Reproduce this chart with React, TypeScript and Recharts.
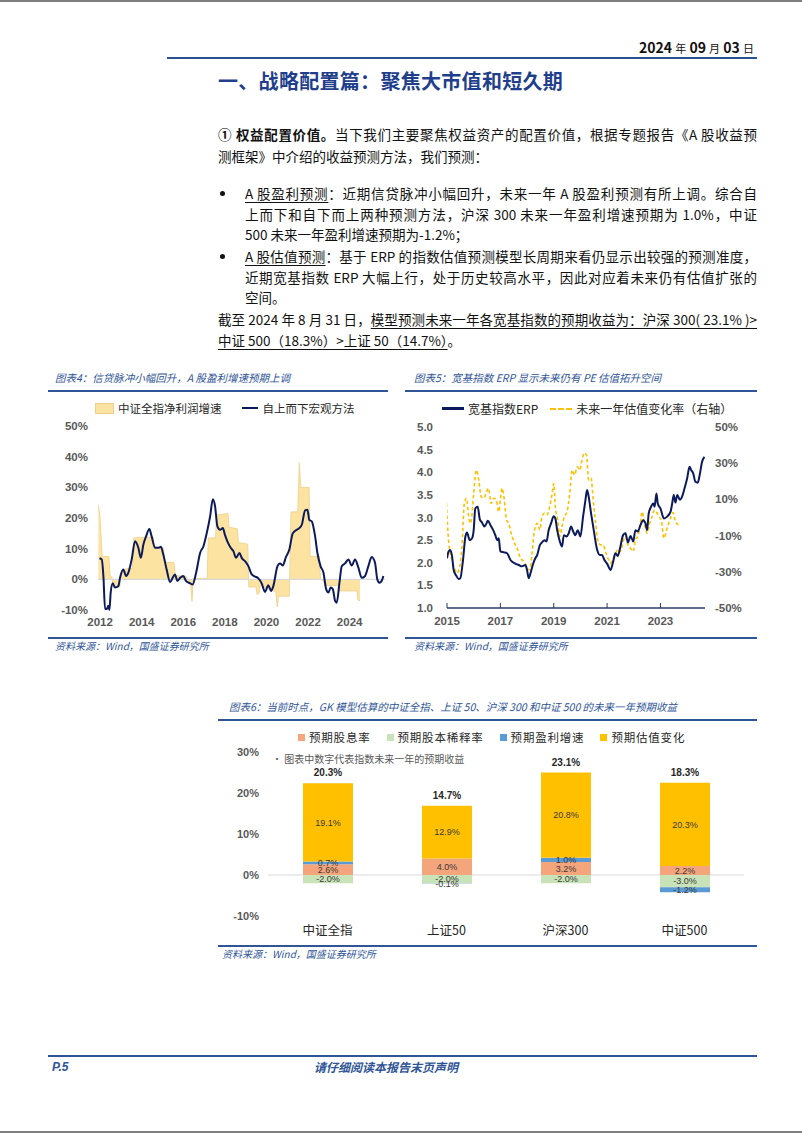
import React from "react";
import {
  ComposedChart,
  BarChart,
  Area,
  Line,
  Bar,
  XAxis,
  YAxis,
  ReferenceLine,
  CartesianGrid,
  LabelList,
} from "recharts";

// ---------- 图表4 ----------
const profitT = [2011.92, 2012.0, 2012.1, 2012.42, 2012.48, 2012.58, 2012.62, 2012.95, 2013.0, 2013.3, 2013.55, 2013.62, 2014.55, 2014.6, 2015.05, 2015.1, 2015.55, 2015.62, 2016.15, 2016.2, 2016.35, 2016.42, 2016.48, 2017.15, 2017.2, 2017.55, 2017.6, 2018.15, 2018.2, 2018.6, 2018.65, 2019.1, 2019.15, 2019.5, 2019.55, 2019.65, 2019.7, 2020.2, 2020.45, 2020.52, 2020.58, 2021.1, 2021.18, 2021.5, 2021.58, 2021.65, 2022.05, 2022.1, 2022.55, 2022.6, 2022.75, 2022.8, 2023.45, 2023.5, 2024.35, 2024.4, 2024.5];
const profitV = [24.3, 20, 7.5, 7.5, 1.5, 0.5, -2.5, -2.5, 2.5, 3.5, 3.5, 13.5, 13.8, 10.5, 10.3, 5.5, 5.5, 1.2, 1, -1, -1.5, -7.2, 0.3, 0.3, 13.5, 13.5, 21, 21.5, 17, 16.5, 12, 11.5, -2.5, -2.5, -5, -4.5, -2, -3.5, -4, -9, -5.5, -5.5, 22, 22, 38, 30, 30, 7.5, 7.5, 0, -0.5, -2, -2, -3.8, -3.8, -6.8, -7];

const macroT = [2011.97, 2012.08, 2012.16, 2012.24, 2012.32, 2012.4, 2012.45, 2012.51, 2012.61, 2012.72, 2012.88, 2012.96, 2013.12, 2013.25, 2013.36, 2013.52, 2013.68, 2013.84, 2013.96, 2014.08, 2014.21, 2014.37, 2014.48, 2014.64, 2014.8, 2014.92, 2015.04, 2015.2, 2015.37, 2015.49, 2015.6, 2015.72, 2015.85, 2016.0, 2016.13, 2016.33, 2016.45, 2016.62, 2016.81, 2016.97, 2017.13, 2017.29, 2017.42, 2017.53, 2017.64, 2017.77, 2017.9, 2018.0, 2018.12, 2018.28, 2018.41, 2018.54, 2018.7, 2018.81, 2018.97, 2019.13, 2019.29, 2019.45, 2019.6, 2019.77, 2019.93, 2020.09, 2020.22, 2020.33, 2020.53, 2020.65, 2020.78, 2020.94, 2021.1, 2021.26, 2021.42, 2021.58, 2021.7, 2021.86, 2021.97, 2022.06, 2022.18, 2022.34, 2022.45, 2022.6, 2022.74, 2022.87, 2022.98, 2023.09, 2023.19, 2023.3, 2023.38, 2023.51, 2023.62, 2023.78, 2023.94, 2024.1, 2024.26, 2024.42, 2024.58, 2024.74, 2024.9, 2025.06, 2025.22, 2025.33, 2025.43, 2025.54, 2025.62];
const macroV = [6.9, 6.5, 1, -9.7, -9.7, -8.6, -10, -4.3, -1.3, -2.7, -2.2, 0.5, 3.2, 1.1, 2.2, 6.5, 12.4, 10.3, 7.0, 11.3, 14, 16.4, 14, 10.3, 10.3, 10.6, 8.1, 3.2, -0.9, 0.5, 1.6, -0.5, 0.5, 1.1, -0.5, -1.3, -1.7, 2.2, 8.6, 10.8, 15.1, 20.5, 26.1, 23.8, 17.3, 16.2, 16.7, 14.6, 12.4, 10.3, 9.2, 7.0, 8.6, 7.0, 5.9, 4.3, 1.6, 0.9, 0.4, -1.3, -4.1, -1.9, -3.8, -2.2, 4.3, 5.2, 4.5, 7.3, 9.7, 14.9, 16, 16.7, 17.8, 22.5, 22.7, 19.4, 18.9, 14, 8.6, 4.3, 2.2, -3.2, -4.3, -2.7, -3.2, -7, -7.6, -1.1, 4.3, 5.2, 6.5, 4.5, 6.5, 3.8, 0.5, 1.1, 4.3, 7.3, 5.4, 0, -1.1, -0.5, 1.1];

const fig4XTicks = [2012, 2014, 2016, 2018, 2020, 2022, 2024];
const fig4YTicks = [-10, 0, 10, 20, 30, 40, 50];

// ---------- 图表5 ----------
const erpT = [2015.0, 2015.06, 2015.12, 2015.19, 2015.25, 2015.35, 2015.44, 2015.5, 2015.6, 2015.69, 2015.75, 2015.85, 2015.94, 2016.0, 2016.06, 2016.15, 2016.23, 2016.31, 2016.4, 2016.48, 2016.53, 2016.63, 2016.73, 2016.81, 2016.88, 2016.94, 2017.0, 2017.13, 2017.25, 2017.38, 2017.56, 2017.69, 2017.81, 2017.94, 2018.0, 2018.06, 2018.13, 2018.23, 2018.31, 2018.38, 2018.48, 2018.56, 2018.65, 2018.73, 2018.81, 2018.9, 2019.0, 2019.06, 2019.13, 2019.23, 2019.31, 2019.38, 2019.48, 2019.56, 2019.65, 2019.73, 2019.81, 2019.9, 2020.0, 2020.1, 2020.19, 2020.25, 2020.31, 2020.4, 2020.5, 2020.63, 2020.73, 2020.81, 2020.9, 2021.0, 2021.13, 2021.23, 2021.31, 2021.4, 2021.5, 2021.6, 2021.69, 2021.78, 2021.88, 2021.98, 2022.06, 2022.15, 2022.25, 2022.35, 2022.44, 2022.5, 2022.56, 2022.65, 2022.73, 2022.78, 2022.85, 2022.9, 2023.0, 2023.13, 2023.25, 2023.38, 2023.44, 2023.5, 2023.56, 2023.63, 2023.73, 2023.81, 2023.9, 2024.0, 2024.09, 2024.15, 2024.23, 2024.31, 2024.4, 2024.48, 2024.56, 2024.65];
const erpV = [2.10, 2.25, 2.28, 2.14, 1.84, 1.71, 1.64, 1.66, 2.06, 2.58, 2.67, 2.5, 2.54, 2.72, 3.2, 3.24, 2.96, 2.89, 2.8, 2.87, 2.93, 2.83, 2.72, 2.61, 2.5, 2.54, 2.25, 2.23, 2.21, 2.06, 1.98, 1.95, 1.92, 1.95, 1.84, 1.66, 1.77, 1.98, 2.1, 2.17, 2.39, 2.45, 2.5, 2.47, 2.72, 2.87, 3.03, 2.98, 2.72, 2.47, 2.36, 2.61, 2.58, 2.65, 2.8, 2.69, 2.61, 2.72, 2.58, 3.02, 3.39, 3.61, 3.46, 3.09, 2.72, 2.28, 2.17, 2.17, 2.06, 1.98, 1.84, 2.03, 2.21, 2.15, 2.36, 2.61, 2.65, 2.45, 2.59, 2.47, 2.72, 2.69, 2.83, 2.94, 2.87, 2.72, 3.09, 3.24, 3.31, 3.24, 3.53, 3.31, 3.2, 2.98, 3.02, 3.13, 3.31, 3.5, 3.33, 3.5, 3.39, 3.46, 3.64, 3.86, 4.12, 4.05, 3.97, 3.79, 3.77, 3.97, 4.23, 4.34];

const peT = [2014.98, 2015.03, 2015.1, 2015.19, 2015.28, 2015.38, 2015.48, 2015.56, 2015.65, 2015.73, 2015.81, 2015.88, 2015.94, 2016.0, 2016.1, 2016.19, 2016.28, 2016.38, 2016.48, 2016.56, 2016.65, 2016.75, 2016.85, 2016.94, 2017.0, 2017.06, 2017.15, 2017.23, 2017.31, 2017.44, 2017.53, 2017.63, 2017.73, 2017.81, 2017.9, 2018.0, 2018.1, 2018.19, 2018.28, 2018.38, 2018.48, 2018.56, 2018.65, 2018.75, 2018.85, 2018.94, 2019.0, 2019.06, 2019.15, 2019.23, 2019.31, 2019.4, 2019.5, 2019.6, 2019.69, 2019.78, 2019.88, 2019.98, 2020.06, 2020.15, 2020.23, 2020.31, 2020.4, 2020.48, 2020.56, 2020.65, 2020.75, 2020.85, 2020.94, 2021.03, 2021.13, 2021.23, 2021.31, 2021.4, 2021.5, 2021.6, 2021.69, 2021.78, 2021.88, 2021.98, 2022.06, 2022.15, 2022.25, 2022.31, 2022.4, 2022.5, 2022.6, 2022.69, 2022.78, 2022.85, 2022.94, 2023.03, 2023.13, 2023.23, 2023.31, 2023.4, 2023.48, 2023.53, 2023.6, 2023.69];
const peV = [7.8, -6.9, -17.9, -23.4, -28, -30.7, -27, -16, 7.8, 10.6, 0.5, -3.2, 2.3, 13.3, 26.2, 20.6, 11.5, 10.6, 14.2, 16.1, 7.8, 10.6, 9.6, 3.2, 9.6, 16.1, 9.6, -1.4, -3.2, -10.5, -14.2, -17, -21.6, -23.4, -24.3, -28, -28.9, -19.7, -6.9, -3.2, -6.9, 0.5, 2.3, 1.4, 6, 13.3, 18.8, 6, -1.4, -10.5, -5, 0.5, 3.2, 13.3, 26.2, 23.4, 28, 26.2, 31.7, 35.7, 34.4, 20.6, 21.6, 9.6, -1.4, -12.4, -15.1, -15.1, -18.8, -22.5, -25.2, -22.5, -20.6, -17.5, -18.8, -13.3, -10.5, -15.1, -17, -18.8, -12.4, -10.5, -3.2, 3.2, -3.2, -8.7, -3.2, 0.5, 4.1, 3.2, 0.5, -1.4, -11.5, -6.9, -3.2, 0.5, 2.7, -0.5, -3.2, -4.1];

const fig5XTicks = [2015, 2017, 2019, 2021, 2023];
const fig5LeftTicks = [1.0, 1.5, 2.0, 2.5, 3.0, 3.5, 4.0, 4.5, 5.0];
const fig5RightTicks = [-50, -30, -10, 10, 30, 50];

// ---------- 图表6 ----------
const indexNames = ["中证全指", "上证50", "沪深300", "中证500"];
const dividendYield = [2.6, 4.0, 3.2, 2.2];
const dilution = [-2.0, -2.0, -2.0, -3.0];
const earningsGrowth = [0.7, -0.1, 1.0, -1.2];
const valuationChange = [19.1, 12.9, 20.8, 20.3];
const expectedReturn = [20.3, 14.7, 23.1, 18.3];
const fig6YTicks = [-10, 0, 10, 20, 30];

const zip = (t: number[], v: number[]) => t.map((x, i) => ({ t: x, v: v[i] }));
const profitData = zip(profitT, profitV);
const macroData = zip(macroT, macroV);
const erpData = zip(erpT, erpV);
const peData = zip(peT, peV);
const fig6Data = indexNames.map((name, i) => ({
  name,
  dividend: dividendYield[i],
  dilution: dilution[i],
  growth: earningsGrowth[i],
  valuation: valuationChange[i],
  total: expectedReturn[i],
}));

const BLUE = "#2f5597";
const NAVY = "#0c1a5c";
const GOLD = "#ffc000";
const CJK = '"Noto Sans CJK SC", "Noto Sans", sans-serif';
const NARROW = '"Liberation Sans Narrow", "Noto Sans CJK SC", sans-serif';
const AXIS_TICK = { fontSize: 11.5, fontWeight: 700, fill: "#595959", fontFamily: '"Liberation Sans", Arial, sans-serif' };

const pct = (v: unknown) => `${Number(v).toFixed(1)}%`;

// 绝对定位的文字，y 为行中心
function T({
  x,
  y,
  size,
  children,
  style,
}: {
  x: number;
  y: number;
  size: number;
  children: React.ReactNode;
  style?: React.CSSProperties;
}) {
  return (
    <div
      style={{
        position: "absolute",
        left: x,
        top: y - size * 0.7,
        lineHeight: `${size * 1.4}px`,
        fontSize: size,
        whiteSpace: "nowrap",
        ...style,
      }}
    >
      {children}
    </div>
  );
}

// 两端对齐的一行正文
function JLine({ x, y, w, last, children }: { x: number; y: number; w: number; last?: boolean; children: React.ReactNode }) {
  return (
    <div
      style={{
        position: "absolute",
        left: x,
        top: y - 10,
        width: w,
        lineHeight: "20px",
        fontSize: 13.5,
        fontFamily: NARROW,
        color: "#111",
        textAlign: "justify",
        textAlignLast: last ? "left" : "justify",
      }}
    >
      {children}
    </div>
  );
}

const Rule = ({ x, y, w, h = 1.5, color = BLUE }: { x: number; y: number; w: number; h?: number; color?: string }) => (
  <div style={{ position: "absolute", left: x, top: y, width: w, height: h, background: color }} />
);

const Bullet = ({ y }: { y: number }) => (
  <div style={{ position: "absolute", left: 220, top: y - 2.5, width: 5, height: 5, borderRadius: 3, background: "#111" }} />
);

const u: React.CSSProperties = { textDecoration: "underline", textUnderlineOffset: 3 };
const capStyle: React.CSSProperties = { fontFamily: CJK, fontStyle: "italic", color: BLUE };

function Fig4() {
  return (
    <ComposedChart width={355} height={215} margin={{ top: 6, right: 10, left: 8, bottom: 0 }}>
      <XAxis
        dataKey="t"
        type="number"
        domain={[2011.9, 2025.7]}
        ticks={fig4XTicks}
        allowDataOverflow
        axisLine={false}
        tickLine={false}
        height={25}
        tick={AXIS_TICK}
      />
      <YAxis
        domain={[-10, 50]}
        ticks={fig4YTicks}
        tickFormatter={(v: number) => `${v}%`}
        axisLine={false}
        tickLine={false}
        width={50}
        tickMargin={4}
        tick={AXIS_TICK}
      />
      <ReferenceLine y={0} stroke="#d9d9d9" strokeWidth={1.2} />
      <Area
        data={profitData}
        dataKey="v"
        type="linear"
        fill="#fde3a1"
        fillOpacity={1}
        stroke="#ead08c"
        strokeWidth={0.8}
        isAnimationActive={false}
      />
      <Line
        data={macroData}
        dataKey="v"
        type="monotone"
        stroke={NAVY}
        strokeWidth={2}
        dot={false}
        isAnimationActive={false}
      />
    </ComposedChart>
  );
}

function Fig5() {
  return (
    <ComposedChart width={360} height={212} margin={{ top: 7, right: 5, left: 7, bottom: 0 }}>
      <XAxis
        dataKey="t"
        type="number"
        domain={[2015, 2024.67]}
        ticks={fig5XTicks}
        allowDataOverflow
        axisLine={{ stroke: "#2b3a67", strokeWidth: 1.5 }}
        tickLine={{ stroke: "#2b3a67" }}
        tickSize={-5}
        tickMargin={14}
        height={24}
        tick={AXIS_TICK}
      />
      <YAxis
        yAxisId="l"
        domain={[1, 5]}
        ticks={fig5LeftTicks}
        tickFormatter={(v: number) => v.toFixed(1)}
        axisLine={false}
        tickLine={false}
        width={40}
        tickMargin={8}
        tick={AXIS_TICK}
      />
      <YAxis
        yAxisId="r"
        orientation="right"
        domain={[-50, 50]}
        ticks={fig5RightTicks}
        tickFormatter={(v: number) => `${v}%`}
        axisLine={false}
        tickLine={false}
        width={50}
        tickMargin={4}
        tick={{ ...AXIS_TICK, textAnchor: "start" }}
      />
      <Line
        yAxisId="r"
        data={peData}
        dataKey="v"
        type="monotone"
        stroke={GOLD}
        strokeWidth={1.6}
        strokeDasharray="3.5 2.5"
        dot={false}
        isAnimationActive={false}
      />
      <Line
        yAxisId="l"
        data={erpData}
        dataKey="v"
        type="monotone"
        stroke={NAVY}
        strokeWidth={2}
        dot={false}
        isAnimationActive={false}
      />
    </ComposedChart>
  );
}

const fig6Series = [
  { key: "dividend", color: "#f4a57b", label: "预期股息率" },
  { key: "dilution", color: "#c9e3b8", label: "预期股本稀释率" },
  { key: "growth", color: "#5b9bd5", label: "预期盈利增速" },
  { key: "valuation", color: GOLD, label: "预期估值变化" },
];

function Fig6() {
  return (
    <BarChart
      width={550}
      height={200}
      data={fig6Data}
      stackOffset="sign"
      margin={{ top: 7, right: 16, left: 8, bottom: 0 }}
    >
      <CartesianGrid vertical={false} horizontalValues={[0]} stroke="#d9d9d9" />
      <XAxis
        dataKey="name"
        axisLine={false}
        tickLine={false}
        height={29}
        tickMargin={4}
        tick={{ fontSize: 12.5, fill: "#262626", fontFamily: CJK }}
      />
      <YAxis
        domain={[-10, 30]}
        ticks={fig6YTicks}
        tickFormatter={(v: number) => `${v}%`}
        axisLine={false}
        tickLine={false}
        width={50}
        tickMargin={3}
        tick={{ ...AXIS_TICK, fontSize: 11 }}
      />
      {fig6Series.map((s) => (
        <Bar key={s.key} dataKey={s.key} stackId="a" fill={s.color} barSize={50} isAnimationActive={false}>
          <LabelList
            dataKey={s.key}
            position="center"
            formatter={pct}
            style={{ fontSize: 9, fill: "#3a3a3a", fontFamily: '"Liberation Sans", sans-serif' }}
          />
          {s.key === "valuation" && (
            <LabelList
              dataKey="total"
              position="top"
              offset={7}
              formatter={pct}
              style={{ fontSize: 10, fontWeight: 700, fill: "#262626", fontFamily: '"Liberation Sans", sans-serif' }}
            />
          )}
        </Bar>
      ))}
    </BarChart>
  );
}

export default function App() {
  return (
    <div
      style={{
        position: "absolute",
        left: 0,
        top: 0,
        width: 802,
        height: 1133,
        background: "#fff",
        overflow: "hidden",
        fontFamily: CJK,
      }}
    >
      <Rule x={0} y={0} w={802} h={1.5} color="#7f7f7f" />
      <Rule x={0} y={1131} w={802} h={2} color="#7f7f7f" />

      {/* 页眉 */}
      <T x={639} y={48} size={14} style={{ fontFamily: NARROW, color: "#111", fontWeight: 600 }}>
        2024 <span style={{ fontSize: 11, fontWeight: 400 }}>年</span> 09 <span style={{ fontSize: 11, fontWeight: 400 }}>月</span> 03{" "}
        <span style={{ fontSize: 11, fontWeight: 400 }}>日</span>
      </T>
      <Rule x={167} y={57} w={590} h={2} color="#2a4f92" />
      <T x={218} y={81} size={20} style={{ fontWeight: 700, color: "#1f3f8c", letterSpacing: 0.3 }}>
        一、战略配置篇：聚焦大市值和短久期
      </T>

      {/* 正文 */}
      <JLine x={218} y={134} w={539}>
        <b>① 权益配置价值。</b>当下我们主要聚焦权益资产的配置价值，根据专题报告《A 股收益预
      </JLine>
      <JLine x={218} y={156} w={539} last>
        测框架》中介绍的收益预测方法，我们预测：
      </JLine>

      <Bullet y={193} />
      <JLine x={245} y={193} w={512}>
        <span style={u}>A 股盈利预测</span>：近期信贷脉冲小幅回升，未来一年 A 股盈利预测有所上调。综合自
      </JLine>
      <JLine x={245} y={214} w={512}>
        上而下和自下而上两种预测方法，沪深 300 未来一年盈利增速预期为 1.0%，中证
      </JLine>
      <JLine x={245} y={234} w={512} last>
        500 未来一年盈利增速预期为-1.2%；
      </JLine>

      <Bullet y={256} />
      <JLine x={245} y={256} w={512}>
        <span style={u}>A 股估值预测</span>：基于 ERP 的指数估值预测模型长周期来看仍显示出较强的预测准度，
      </JLine>
      <JLine x={245} y={277} w={512}>
        近期宽基指数 ERP 大幅上行，处于历史较高水平，因此对应着未来仍有估值扩张的
      </JLine>
      <JLine x={245} y={297} w={512} last>
        空间。
      </JLine>

      <JLine x={218} y={319} w={539}>
        截至 2024 年 8 月 31 日，<span style={u}>模型预测未来一年各宽基指数的预期收益为：沪深 300( 23.1% )&gt;</span>
      </JLine>
      <JLine x={218} y={340} w={539} last>
        <span style={u}>中证 500（18.3%）&gt;上证 50（14.7%）</span>。
      </JLine>

      {/* 图表4 */}
      <T x={55} y={378} size={10.5} style={capStyle}>
        图表4：信贷脉冲小幅回升，A 股盈利增速预期上调
      </T>
      <Rule x={48} y={390} w={340} />
      <div style={{ position: "absolute", left: 95, top: 400, display: "flex", alignItems: "center", fontSize: 11.5, color: "#262626" }}>
        <span style={{ width: 17, height: 9, background: "#fde3a1", border: "1px solid #ead08c", marginRight: 4 }} />
        <span>中证全指净利润增速</span>
        <span style={{ width: 16, height: 2.5, background: NAVY, marginLeft: 20, marginRight: 5 }} />
        <span>自上而下宏观方法</span>
      </div>
      <div style={{ position: "absolute", left: 40, top: 420 }}>
        <Fig4 />
      </div>
      <Rule x={48} y={637} w={340} />
      <T x={55} y={646} size={10} style={capStyle}>
        资料来源：Wind，国盛证券研究所
      </T>

      {/* 图表5 */}
      <T x={414} y={378} size={10.5} style={capStyle}>
        图表5：宽基指数 ERP 显示未来仍有 PE 估值拓升空间
      </T>
      <Rule x={405} y={390} w={352} />
      <div style={{ position: "absolute", left: 442, top: 400, display: "flex", alignItems: "center", fontSize: 12, color: "#262626" }}>
        <span style={{ width: 22, height: 2.5, background: NAVY, marginRight: 4 }} />
        <span>宽基指数ERP</span>
        <span style={{ width: 22, height: 0, borderTop: `2px dashed ${GOLD}`, marginLeft: 12, marginRight: 4 }} />
        <span>未来一年估值变化率（右轴）</span>
      </div>
      <div style={{ position: "absolute", left: 400, top: 420 }}>
        <Fig5 />
      </div>
      <Rule x={405} y={637} w={352} />
      <T x={414} y={646} size={10} style={capStyle}>
        资料来源：Wind，国盛证券研究所
      </T>

      {/* 图表6 */}
      <T x={229} y={707} size={10.5} style={capStyle}>
        图表6：当前时点，GK 模型估算的中证全指、上证 50、沪深 300 和中证 500 的未来一年预期收益
      </T>
      <Rule x={218} y={719} w={539} />
      <div style={{ position: "absolute", left: 298, top: 729, display: "flex", alignItems: "center", fontSize: 11.5, color: "#262626" }}>
        {fig6Series.map((s, i) => (
          <span key={s.key} style={{ display: "flex", alignItems: "center", marginLeft: i ? 16 : 0 }}>
            <span style={{ width: 7, height: 7, background: s.color, marginRight: 4 }} />
            <span style={{ letterSpacing: 0.8 }}>{s.label}</span>
          </span>
        ))}
      </div>
      <div style={{ position: "absolute", left: 210, top: 745 }}>
        <Fig6 />
      </div>
      <T x={272} y={759} size={10} style={{ color: "#595959" }}>
        · 图表中数字代表指数未来一年的预期收益
      </T>
      <Rule x={218} y={945} w={539} />
      <T x={222} y={954} size={10} style={capStyle}>
        资料来源：Wind，国盛证券研究所
      </T>

      {/* 页脚 */}
      <Rule x={48} y={1055} w={709} />
      <T x={52} y={1067} size={12} style={{ color: BLUE, fontWeight: 700, fontStyle: "italic", fontFamily: '"Liberation Sans", sans-serif' }}>
        P.5
      </T>
      <T x={314} y={1067} size={12} style={{ color: BLUE, fontWeight: 700, fontStyle: "italic" }}>
        请仔细阅读本报告末页声明
      </T>
    </div>
  );
}
